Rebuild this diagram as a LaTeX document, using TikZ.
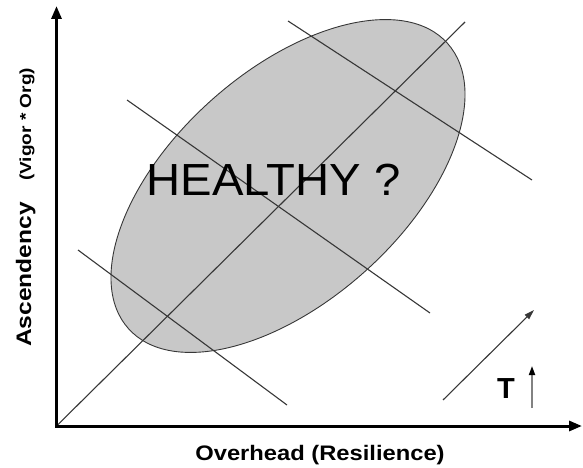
\documentclass[tikz,border=0pt]{standalone}
\usepackage{fontspec}
\setmainfont{Liberation Sans}
\usetikzlibrary{arrows.meta}
\definecolor{fillgray}{RGB}{200,200,200}
\definecolor{linegray}{RGB}{55,55,55}
\definecolor{shaftgray}{RGB}{130,130,130}
\tikzset{
  axisline/.style={line width=3pt,{Triangle[length=13pt,width=10pt]}-{Triangle[length=13pt,width=10pt]}},
  thinline/.style={line width=1.1pt,draw=linegray},
  blob/.style={fill=fillgray,draw=linegray,line width=0.9pt},
  lbl/.style={inner sep=0pt,text=black}
}
\begin{document}
\begin{tikzpicture}[x=1pt,y=-1pt]
\useasboundingbox (0,0) rectangle (583,468);
% coordinates
\coordinate (O) at (56.5,426);
\coordinate (ytip) at (56.5,6);
\coordinate (xtip) at (582,426);
\coordinate (C) at (288,186);
\coordinate (dEnd) at (465,22);
\coordinate (a1) at (288,21);
\coordinate (b1) at (532,180);
\coordinate (a2) at (127,100);
\coordinate (b2) at (430,313);
\coordinate (a3) at (78,250);
\coordinate (b3) at (287,405);
\coordinate (t1) at (443,400);
\coordinate (t2) at (534,310);
\coordinate (s1) at (532,408);
\coordinate (s2) at (532,366);
% ellipse
\draw[blob,rotate around={41.8:(C)}] (C) ellipse [x radius=214pt,y radius=115pt];
% lines
\draw[thinline] (O) -- (dEnd);
\draw[thinline] (a1) -- (b1);
\draw[thinline] (a2) -- (b2);
\draw[thinline] (a3) -- (b3);
% axes
\draw[axisline] (ytip) -- (O) -- (xtip);
% trend arrow
\draw[thinline,-{Triangle[length=10pt,width=6pt]}] (t1) -- (t2);
\draw[line width=1.8pt,draw=shaftgray,-{Triangle[length=9pt,width=6pt,color=black]}] (s1) -- (s2);
% labels
\node[lbl,anchor=base west] (healthy) at (146.5,195) {\fontsize{45}{50}\selectfont\scalebox{1.05}[1]{HEALTHY ?}};
\node[lbl,anchor=base] (xlab) at (320,460) {\fontsize{21}{24}\selectfont\bfseries\scalebox{1.13}[1]{Overhead (Resilience)}};
\node[lbl,anchor=base west,rotate=90] (ylab) at (31,347) {\fontsize{21}{24}\selectfont\bfseries\scalebox{1.17}[1]{Ascendency}};
\node[lbl,anchor=base west,rotate=90] (ysub) at (31,181) {\fontsize{16}{18}\selectfont\bfseries\scalebox{1.19}[1]{(Vigor * Org)}};
\node[lbl,anchor=base west] (T) at (497,398) {\fontsize{29}{32}\selectfont\bfseries T};
\end{tikzpicture}
\end{document}
